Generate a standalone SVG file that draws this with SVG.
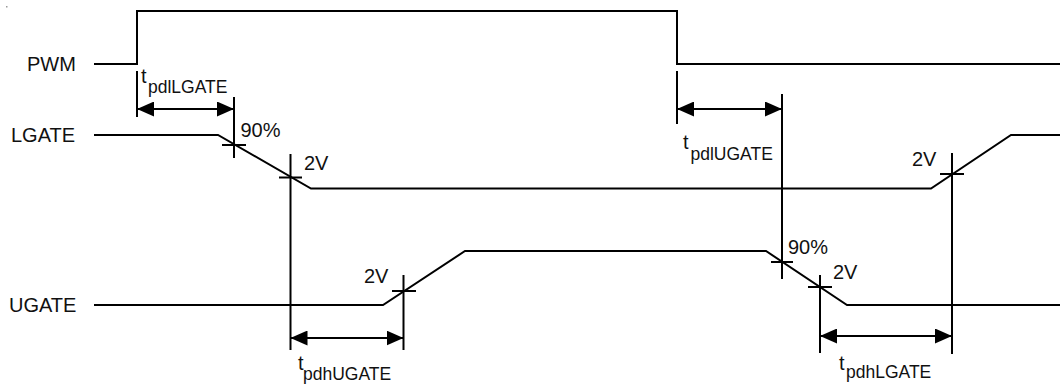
<svg xmlns="http://www.w3.org/2000/svg" width="1060" height="385" viewBox="0 0 1060 385">
<style>
.w{fill:none;stroke:#000;stroke-width:2;stroke-linejoin:miter}
.t{font-family:"Liberation Sans",Arial,sans-serif;font-size:20px;fill:#111}
.s{font-size:17.5px}
.d{fill:none;stroke:#000;stroke-width:2;marker-start:url(#ah);marker-end:url(#ah)}
</style>
<defs>
<marker id="ah" viewBox="0 0 17 15" refX="17" refY="7.5" markerWidth="17" markerHeight="15" markerUnits="userSpaceOnUse" orient="auto-start-reverse">
<path d="M0,0 L17,7.5 L0,15 Z" fill="#000"/>
</marker>
</defs>
<rect x="6" y="6" width="1.5" height="1.5" fill="#999"/>
<g id="pwm">
<text class="t" x="27" y="71">PWM</text>
<polyline class="w" points="94,64 137,64 137,11 677,11 677,64 1060,64"/>
</g>
<g id="lgate">
<text class="t" x="11" y="142">LGATE</text>
<polyline class="w" points="94,135 218,135 311,188.5 931,188.5 1011,135 1060,135"/>
</g>
<g id="ugate">
<text class="t" x="9" y="312">UGATE</text>
<polyline class="w" points="94,305 383,305 465,251 766,251 847,305 1060,305"/>
</g>
<g id="markers" stroke="#000" stroke-width="2" fill="none">
<line x1="137" y1="71" x2="137" y2="117"/>
<line x1="234" y1="97" x2="234" y2="158"/>
<line x1="222" y1="145" x2="246" y2="145"/>
<line x1="290.5" y1="154" x2="290.5" y2="350"/>
<line x1="279" y1="177.5" x2="302" y2="177.5"/>
<line x1="403.5" y1="275" x2="403.5" y2="350"/>
<line x1="392" y1="291" x2="416" y2="291"/>
<line x1="677" y1="71" x2="677" y2="124"/>
<line x1="782" y1="94" x2="782" y2="279"/>
<line x1="771" y1="262" x2="793" y2="262"/>
<line x1="820" y1="275" x2="820" y2="353"/>
<line x1="808" y1="287" x2="832" y2="287"/>
<line x1="952" y1="153" x2="952" y2="354"/>
<line x1="940" y1="174" x2="964" y2="174"/>
</g>
<g id="connectors">
<line class="d" x1="137" y1="109" x2="234" y2="109"/>
<line class="d" x1="677" y1="109" x2="782" y2="109"/>
<line class="d" x1="290.5" y1="338" x2="403.5" y2="338"/>
<line class="d" x1="820" y1="336" x2="952" y2="336"/>
</g>
<g id="labels">
<text class="t" x="141" y="83">t<tspan class="s" x="148" y="93">pdlLGATE</tspan></text>
<text class="t" x="683" y="149">t<tspan class="s" x="690.5" y="160">pdlUGATE</tspan></text>
<text class="t" x="298" y="370">t<tspan class="s" x="303" y="380">pdhUGATE</tspan></text>
<text class="t" x="839" y="370">t<tspan class="s" x="846" y="378">pdhLGATE</tspan></text>
<text class="t" x="240.5" y="137">90%</text>
<text class="t" x="304" y="170">2V</text>
<text class="t" x="364" y="283">2V</text>
<text class="t" x="788" y="254">90%</text>
<text class="t" x="833" y="279">2V</text>
<text class="t" x="912" y="166">2V</text>
</g>
</svg>
